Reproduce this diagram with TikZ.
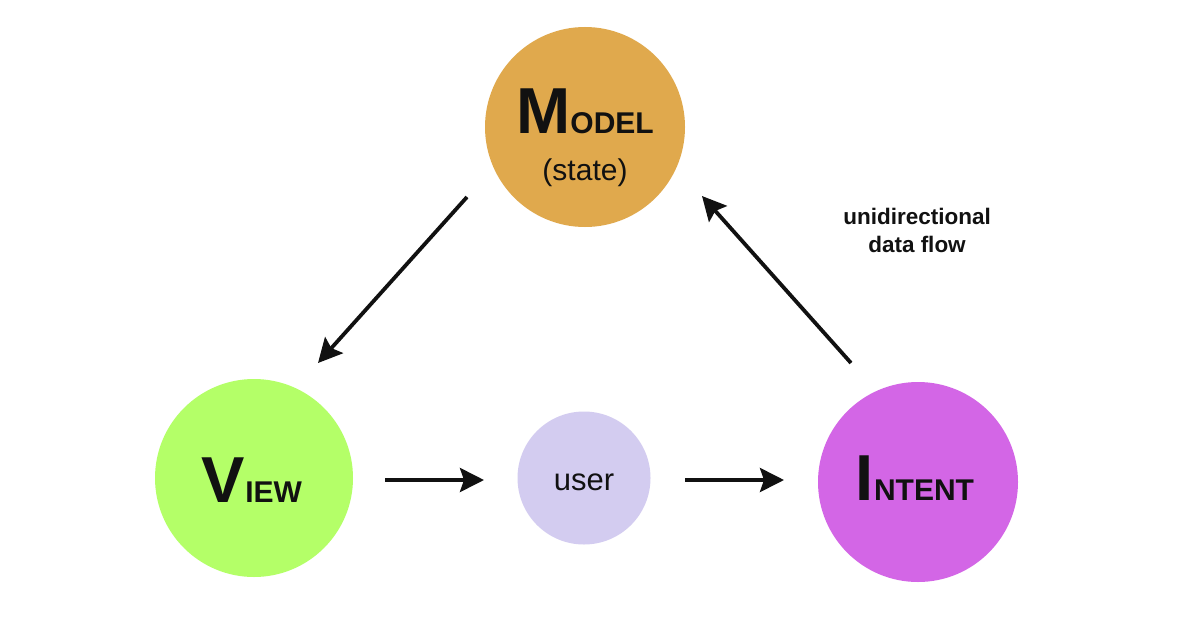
\documentclass[tikz,border=0pt]{standalone}
\usepackage{fontspec}
\setmainfont{Liberation Sans}
\usetikzlibrary{arrows.meta}
\definecolor{modelc}{RGB}{224,169,77}
\definecolor{viewc}{RGB}{180,255,104}
\definecolor{intentc}{RGB}{211,102,230}
\definecolor{userc}{RGB}{211,204,240}
\definecolor{ink}{RGB}{17,17,17}
\newcommand{\mvicaps}[2]{{\bfseries\fontsize{65}{65}\selectfont #1}{\bfseries\fontsize{30}{30}\selectfont #2}}
\begin{document}
\begin{tikzpicture}[x=1pt,y=-1pt,
  bubble/.style={circle,inner sep=0pt,draw=none},
  lbl/.style={anchor=base,inner sep=0pt,text=ink},
  flow/.style={line width=3.8pt,draw=ink,-{Stealth[length=24pt,width=24pt,inset=4pt]}}]
\useasboundingbox[fill=white] (0,0) rectangle (1196,634);
% circles
\node[bubble,fill=modelc,minimum size=200pt] (model) at (585,127) {};
\node[bubble,fill=viewc,minimum size=198pt] (view) at (254,478) {};
\node[bubble,fill=intentc,minimum size=200pt] (intent) at (918,482) {};
\node[bubble,fill=userc,minimum size=133pt] (user) at (584,478) {};
% labels
\node[lbl] (modeltxt) at (585,133) {\mvicaps{M}{ODEL}};
\node[lbl] (statetxt) at (585,180) {\fontsize{30}{30}\selectfont (state)};
\node[lbl] (viewtxt) at (252,502) {\mvicaps{V}{IEW}};
\node[lbl] (intenttxt) at (915,500) {\mvicaps{I}{NTENT}};
\node[lbl] (usertxt) at (584,490) {\fontsize{31}{31}\selectfont user};
\node[lbl,align=center,font=\bfseries\fontsize{22.5}{28}\selectfont] (flowtxt) at (917,252) {unidirectional\\ data flow};
% arrow end points
\coordinate (a1s) at (467,197);
\coordinate (a1e) at (318,363);
\coordinate (a2s) at (851,363);
\coordinate (a2e) at (702,196);
\coordinate (a3s) at (385,480);
\coordinate (a3e) at (484,480);
\coordinate (a4s) at (685,480);
\coordinate (a4e) at (784,480);
\draw[flow] (a1s) -- (a1e);
\draw[flow] (a2s) -- (a2e);
\draw[flow] (a3s) -- (a3e);
\draw[flow] (a4s) -- (a4e);
\end{tikzpicture}
\end{document}
